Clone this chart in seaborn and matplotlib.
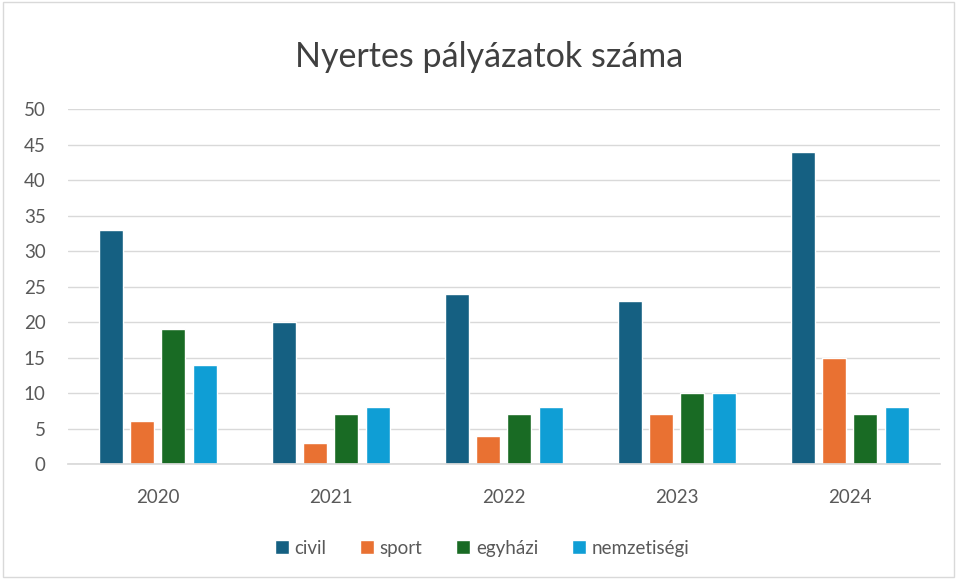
import pandas as pd
import matplotlib
matplotlib.use("Agg")
import matplotlib.pyplot as plt
import seaborn as sns

# Data
years = ["2020", "2021", "2022", "2023", "2024"]
civil = [33, 20, 24, 23, 44]
sport = [6, 3, 4, 7, 15]
egyhazi = [19, 7, 7, 10, 7]
nemzetisegi = [14, 8, 8, 10, 8]
series_names = ["civil", "sport", "egyházi", "nemzetiségi"]
colors = ["#156082", "#E97132", "#196B24", "#0F9ED5"]

df = pd.DataFrame({"Év": years, "civil": civil, "sport": sport,
                   "egyházi": egyhazi, "nemzetiségi": nemzetisegi})
df_long = df.melt(id_vars="Év", var_name="típus", value_name="db")

sns.set_theme(style="white")
plt.rcParams["font.family"] = ["Lato", "DejaVu Sans"]

fig = plt.figure(figsize=(9.57, 5.79), dpi=100)
ax = fig.add_axes([0.071, 0.1986, 0.911, 0.6131])

sns.barplot(data=df_long, x="Év", y="db", hue="típus", hue_order=series_names,
            palette=colors, width=0.72, gap=0.23, saturation=1, ax=ax)

ax.set_ylim(0, 50)
ax.set_yticks(range(0, 51, 5))
ax.set_xlim(-0.52, 4.52)
ax.grid(axis="y", color="#d9d9d9", linewidth=1)
ax.set_axisbelow(True)
for s in ["top", "right", "left"]:
    ax.spines[s].set_visible(False)
ax.spines["bottom"].set_color("#d9d9d9")
ax.tick_params(axis="both", length=0, labelsize=13.5, labelcolor="#595959")
ax.tick_params(axis="y", pad=16)
ax.tick_params(axis="x", pad=18)
ax.set_xlabel("")
ax.set_ylabel("")

fig.suptitle("Nyertes pályázatok száma", x=0.511, y=0.93, fontsize=24.5, color="#404040")

ax.legend(loc="center", bbox_to_anchor=(0.475, -0.237), ncol=4, frameon=False,
          fontsize=13.5, labelcolor="#595959", handlelength=0.75, handleheight=0.75,
          handletextpad=0.3, columnspacing=1.8)

fig.patches.append(plt.Rectangle((0.003, 0.003), 0.994, 0.994, transform=fig.transFigure,
                                 fill=False, edgecolor="#d9d9d9", linewidth=1))

fig.savefig("out.png", dpi=100)
